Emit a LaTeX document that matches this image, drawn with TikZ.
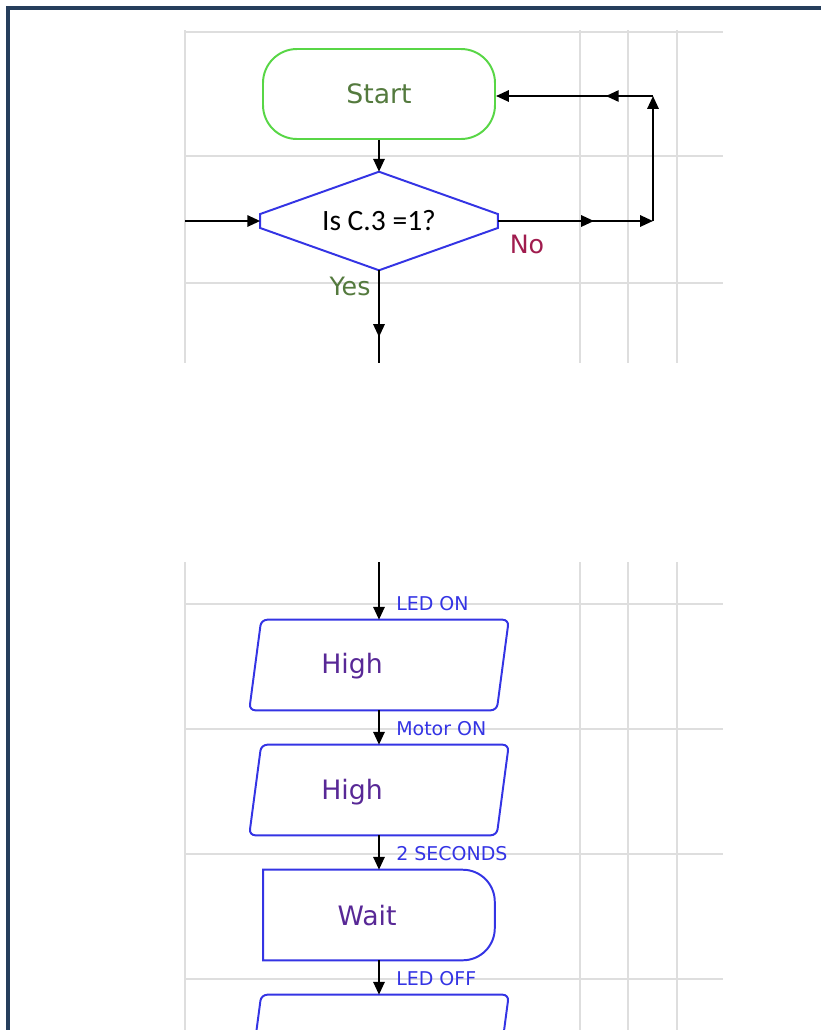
\documentclass[tikz,border=0pt]{standalone}
\usepackage{fontspec}
\setmainfont{DejaVu Sans}
\newfontfamily\calibri{Carlito}
\definecolor{FrameNavy}{RGB}{38,62,92}
\definecolor{GridGrey}{RGB}{222,222,222}
\definecolor{StartGreen}{RGB}{88,214,70}
\definecolor{TextOlive}{RGB}{84,122,62}
\definecolor{FlowBlue}{RGB}{52,52,228}
\definecolor{TextViolet}{RGB}{88,40,150}
\definecolor{NoRed}{RGB}{160,28,78}
\usetikzlibrary{arrows.meta, shapes.geometric, positioning, decorations.markings}
\newcommand\drawio[1]{%
  \draw[outline, rounded corners=1.5mm] ([xshift=-1.5mm]#1.south west) -- ([xshift=1.5mm]#1.north west)
    -- ([xshift=1.5mm]#1.north east) -- ([xshift=-1.5mm]#1.south east) -- cycle;}

\begin{document}
\begin{tikzpicture}[x=0.25mm, y=-0.25mm,
  gridline/.style={GridGrey, line width=1.5pt},
  outline/.style={draw=FlowBlue, line width=1.4pt},
  flow/.style={line width=1.5pt, -{Triangle[length=3.2mm, width=2.8mm]}},
  midtip/.style={postaction={decorate}, decoration={markings,
      mark=at position #1 with {\arrow{Triangle[length=3.2mm, width=2.8mm]}}}},
  startbox/.style={draw=StartGreen, line width=1.4pt, rounded corners=8.5mm,
      minimum width=58mm, minimum height=22.5mm, text=TextOlive, font=\fontsize{19}{22}\selectfont},
  decision/.style={inner sep=0pt, minimum width=59.25mm, minimum height=24.5mm,
      font=\calibri\fontsize{21}{24}\selectfont},
  iobox/.style={inner sep=0pt, minimum width=61.75mm, minimum height=22.5mm},
  waitbox/.style={inner sep=0pt, minimum width=57.75mm, minimum height=22.5mm},
  bodytext/.style={text=TextViolet, font=\fontsize{19}{22}\selectfont},
  wirelabel/.style={anchor=west, inner sep=0pt, text=FlowBlue, font=\fontsize{13.5}{15}\selectfont},
  branch/.style={inner sep=0pt, font=\fontsize{18}{21}\selectfont}]

  \useasboundingbox (0,0) rectangle (821,1030);
  \clip (0,0) rectangle (821,1030);

  \foreach \gx in {185,580,628,677} {
    \draw[gridline] (\gx,30) -- (\gx,363);
    \draw[gridline] (\gx,562) -- (\gx,1030);
  }
  \foreach \gy in {32,156,283,604,729,854,979}
    \draw[gridline] (185,\gy) -- (723,\gy);

  \draw[FrameNavy, line width=2.2pt] (8,1030) -- (8,8) -- (821,8);

  \node[startbox] (start) at (379,94) {Start};
  \node[decision] (test) at (379,221) {Is C.3 =1?};
  \draw[outline] (test.north) -- ([yshift=1.75mm]test.east) -- ([yshift=-1.75mm]test.east)
    -- (test.south) -- ([yshift=-1.75mm]test.west) -- ([yshift=1.75mm]test.west) -- cycle;
  \node[branch, text=NoRed] (noLbl) at (527,244) {No};
  \node[branch, text=TextOlive] (yesLbl) at (350,286) {Yes};

  \coordinate (inL) at (185,221);
  \coordinate (noB) at (653,221);
  \coordinate (noT) at (653,96);
  \coordinate (yesEnd) at (379,363);
  \coordinate (topIn) at (379,562);

  \draw[flow] (start) -- (test);
  \draw[flow] (inL) -- (test.west);
  \draw[flow, midtip=0.62] (test.east) -- (noB);
  \draw[flow] (noB) -- (noT);
  \draw[flow, midtip=0.3] (noT) -- (start.east |- noT);
  \draw[line width=1.5pt, midtip=0.72] (test.south) -- (yesEnd);

  \node[iobox] (ledon) at (379,665) {};
  \drawio{ledon}
  \node[bodytext] (ledonText) at (352,666) {High};
  \node[iobox] (motoron) at (379,790) {};
  \drawio{motoron}
  \node[bodytext] (motoronText) at (352,792) {High};
  \node[waitbox] (pause) at (379,915) {};
  \draw[outline] (pause.north west) -- ([xshift=-8mm]pause.north east)
    arc[start angle=90, end angle=0, radius=8mm] -- ([yshift=8mm]pause.south east)
    arc[start angle=0, end angle=-90, radius=8mm] -- (pause.south west) -- cycle;
  \node[bodytext] (pauseText) at (367,916) {Wait};
  \node[iobox] (ledoff) at (379,1040) {};
  \drawio{ledoff}

  \draw[flow] (topIn) -- (ledon);
  \draw[flow] (ledon) -- (motoron);
  \draw[flow] (motoron) -- (pause);
  \draw[flow] (pause) -- (ledoff);

  \node[wirelabel] (ledonLbl) at (396,604) {LED ON};
  \node[wirelabel] (motorLbl) at (396,729) {Motor ON};
  \node[wirelabel] (secLbl) at (396,854) {2 SECONDS};
  \node[wirelabel] (ledoffLbl) at (396,979) {LED OFF};
\end{tikzpicture}
\end{document}
